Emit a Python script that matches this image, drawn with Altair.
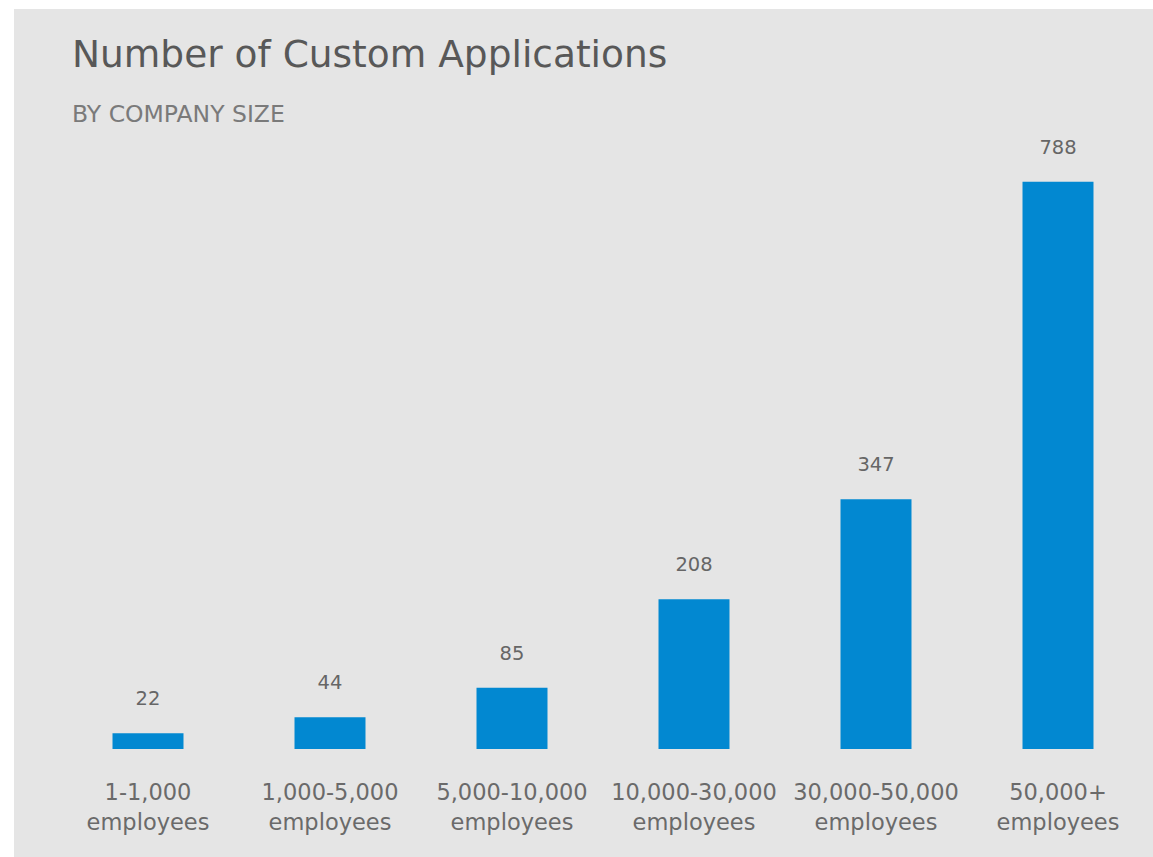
import altair as alt
import pandas as pd

title_text = "Number of Custom Applications"
subtitle_text = "BY COMPANY SIZE"
categories = ["1-1,000 employees", "1,000-5,000 employees", "5,000-10,000 employees",
              "10,000-30,000 employees", "30,000-50,000 employees", "50,000+ employees"]
values = [22, 44, 85, 208, 347, 788]

df = pd.DataFrame({"size": categories, "apps": values})
one = pd.DataFrame({"a": [0]})

BG = "#e5e5e5"
BLUE = "#0288d1"
FONT = "DejaVu Sans"

x = alt.X("size:N", sort=categories,
          scale=alt.Scale(paddingInner=0.61, paddingOuter=0.305),
          axis=alt.Axis(title=None, domain=False, ticks=False, labelAngle=0,
                        labelExpr="split(datum.value, ' ')", zindex=1,
                        labelFont=FONT, labelFontSize=22.5, labelColor="#6a6a6a",
                        labelLineHeight=30, labelPadding=32, labelBaseline="top"))
y = alt.Y("apps:Q", scale=alt.Scale(domain=[0, 800]), axis=None)

bg = alt.Chart(one).mark_rect(color=BG).encode(
    x=alt.value(14 - 57), x2=alt.value(1160 - 57),
    y=alt.value(9 - 173), y2=alt.value(860 - 173))

title = alt.Chart(one).mark_text(text=title_text, font=FONT, fontSize=37.5, color="#585858",
                                 align="left", baseline="alphabetic").encode(
    x=alt.value(15), y=alt.value(67 - 173))
subtitle = alt.Chart(one).mark_text(text=subtitle_text, font=FONT, fontSize=23.5, color="#7a7a7a",
                                    align="left", baseline="alphabetic").encode(
    x=alt.value(15), y=alt.value(122 - 173))

bars = alt.Chart(df).mark_bar(color=BLUE).encode(x=x, y=y)
labels = alt.Chart(df).mark_text(dy=-34, font=FONT, fontSize=19.5, color="#666666").encode(
    x=x, y=y, text="apps:Q")

chart = alt.layer(bg, title, subtitle, bars, labels).properties(
    width=1092, height=576,
    autosize=alt.AutoSizeParams(type="none"),
    padding={"left": 57, "top": 173, "right": 4, "bottom": 108},
    background="white",
).configure_view(stroke=None)

chart.save("out.html", embed_options={"renderer": "svg", "actions": False})
